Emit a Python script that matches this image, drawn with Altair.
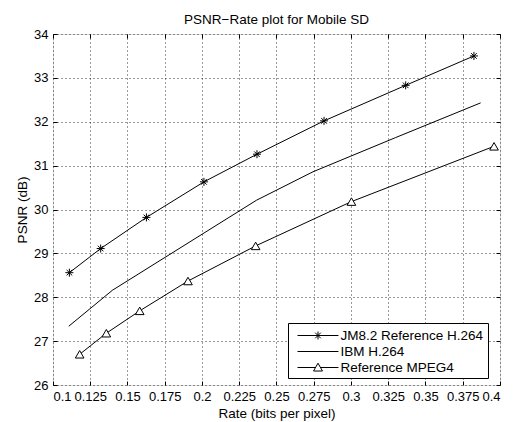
import altair as alt
import pandas as pd

# ---- data ----
series_names = ["JM8.2 Reference H.264", "IBM H.264", "Reference MPEG4"]

jm_rate = [0.111, 0.132, 0.1627, 0.2013, 0.2369, 0.2819, 0.3367, 0.3825]
jm_psnr = [28.56, 29.11, 29.82, 30.63, 31.26, 32.02, 32.83, 33.50]

ibm_rate = [0.1106, 0.1399, 0.2365, 0.2745, 0.33, 0.387]
ibm_psnr = [27.34, 28.16, 30.21, 30.86, 31.64, 32.43]

mp4_rate = [0.1179, 0.1358, 0.1582, 0.1906, 0.2360, 0.3003, 0.396]
mp4_psnr = [26.70, 27.18, 27.69, 28.37, 29.17, 30.18, 31.44]

x_ticks = [0.1, 0.125, 0.15, 0.175, 0.2, 0.225, 0.25, 0.275, 0.3, 0.325, 0.35, 0.375, 0.4]
y_ticks = [26, 27, 28, 29, 30, 31, 32, 33, 34]

rows = []
for name, rs, ps in [(series_names[0], jm_rate, jm_psnr),
                     (series_names[1], ibm_rate, ibm_psnr),
                     (series_names[2], mp4_rate, mp4_psnr)]:
    for i, (r, p) in enumerate(zip(rs, ps)):
        rows.append({"series": name, "rate": r, "psnr": p, "order": i})
df = pd.DataFrame(rows)
df_jm = df[df.series == series_names[0]]
df_mp4 = df[df.series == series_names[2]]
df_leg = pd.DataFrame({"series": series_names, "rate": [0.25] * 3, "psnr": [30] * 3})

FONT = "Liberation Sans"
STAR = "M-1,0L1,0M0,-1L0,1M-0.7,-0.7L0.7,0.7M-0.7,0.7L0.7,-0.7"

xscale = alt.Scale(domain=[0.1, 0.4], nice=False, zero=False)
yscale = alt.Scale(domain=[26, 34], nice=False, zero=False)

common_ax = dict(labelFont=FONT, titleFont=FONT, labelColor="black", titleColor="black",
                 tickColor="black", domain=False, titleFontWeight="normal")

x_bottom = alt.Axis(orient="bottom", values=x_ticks, labelExpr="format(datum.value, '.3~f')",
                    offset=-4, tickSize=4, labelPadding=5, labelFontSize=13,
                    title="Rate (bits per pixel)", titleFontSize=13.5, titlePadding=3,
                    grid=False, **common_ax)
y_left = alt.Axis(orient="left", values=y_ticks, offset=-4, tickSize=4, labelPadding=5,
                  labelFontSize=13, title="PSNR (dB)", titleFontSize=13.5, titlePadding=4,
                  grid=False, **common_ax)
x_top = alt.Axis(orient="top", values=x_ticks, offset=-4, tickSize=4, labels=False,
                 title=None, grid=False, **common_ax)
y_right = alt.Axis(orient="right", values=y_ticks, offset=-4, tickSize=4, labels=False,
                   title=None, grid=False, **common_ax)
x_grid = alt.Axis(orient="bottom", values=x_ticks, ticks=False, labels=False, title=None,
                  domain=False, grid=True, gridColor="#333", gridDash=[1, 3], gridWidth=1)
y_grid = alt.Axis(orient="left", values=y_ticks, ticks=False, labels=False, title=None,
                  domain=False, grid=True, gridColor="#333", gridDash=[1, 3], gridWidth=1)

grid = alt.Chart(df).mark_line(opacity=0).encode(
    x=alt.X("rate:Q", scale=xscale, axis=x_grid),
    y=alt.Y("psnr:Q", scale=yscale, axis=y_grid),
    detail="series:N",
)

lines = alt.Chart(df).mark_line(color="black", strokeWidth=1).encode(
    x=alt.X("rate:Q", scale=xscale, axis=x_bottom),
    y=alt.Y("psnr:Q", scale=yscale, axis=y_left),
    detail="series:N",
    order="order:Q",
)

stars = alt.Chart(df_jm).mark_point(shape=STAR, filled=False, color="black", size=64,
                                    strokeWidth=1, opacity=1).encode(
    x=alt.X("rate:Q", scale=xscale, axis=x_top),
    y=alt.Y("psnr:Q", scale=yscale, axis=y_right),
)

tris = alt.Chart(df_mp4).mark_point(shape="triangle-up", filled=False, fill="white",
                                    fillOpacity=1, stroke="black", size=75, strokeWidth=1,
                                    opacity=1).encode(
    x=alt.X("rate:Q", scale=xscale, axis=None),
    y=alt.Y("psnr:Q", scale=yscale, axis=None),
)

# legend symbols: a 16px symbol box, drawn 41px wide
leg_paths = [
    "M-2.56,0L2.56,0M-0.5,0L0.5,0M0,-0.5L0,0.5M-0.35,-0.35L0.35,0.35M-0.35,0.35L0.35,-0.35",
    "M-2.56,0L2.56,0",
    "M-2.56,0L-0.3,0M0.3,0L2.56,0M-0.56,0.44L0,-0.54L0.56,0.44Z",
]

legend_layer = alt.Chart(df_leg).mark_point(opacity=0, filled=False, color="black").encode(
    x=alt.X("rate:Q", scale=xscale, axis=None),
    y=alt.Y("psnr:Q", scale=yscale, axis=None),
    shape=alt.Shape("series:N", scale=alt.Scale(domain=series_names, range=leg_paths),
                    legend=alt.Legend(orient="none", legendX=235, legendY=289, title=None,
                                      strokeColor="black", fillColor="white", padding=4,
                                      cornerRadius=0, symbolSize=256, symbolStrokeWidth=1,
                                      symbolStrokeColor="black", symbolFillColor="white",
                                      symbolOpacity=1, symbolOffset=17.5, labelFont=FONT,
                                      labelFontSize=13.5, labelColor="black", labelOffset=14,
                                      rowPadding=1)),
)

chart = alt.layer(grid, lines, stars, tris, legend_layer).resolve_axis(
    x="independent", y="independent"
).properties(
    width=447, height=351,
    title=alt.TitleParams("PSNR\u2212Rate plot for Mobile SD", font=FONT, fontSize=13.5,
                          fontWeight="normal", color="black", offset=2, anchor="middle"),
    autosize=alt.AutoSizeParams(type="none"),
    padding={"left": 45, "top": 26, "right": 5, "bottom": 37},
).configure_view(stroke="black", strokeWidth=1).configure(background="white")

chart.save("out.html", embed_options={"renderer": "svg", "actions": False})
